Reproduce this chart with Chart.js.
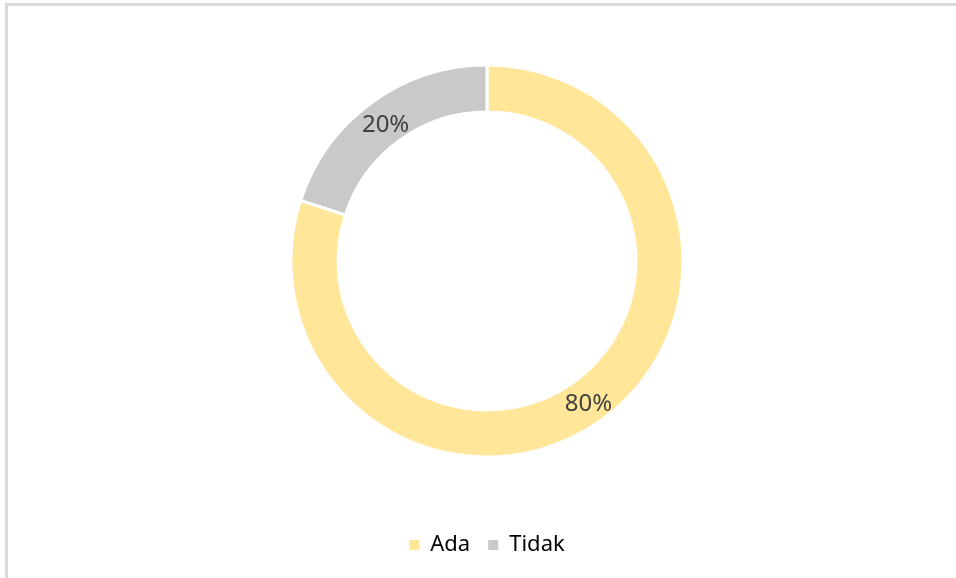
<!DOCTYPE html>
<html>
<head>
<meta charset="utf-8">
<script src="https://cdn.jsdelivr.net/npm/chart.js@4"></script>
<style>
  html, body { margin: 0; padding: 0; background: #fff; }
  #wrap { position: relative; width: 956px; height: 578px; }
  #frame { position: absolute; left: 5px; top: 3px; right: 0; bottom: 0;
           border-top: 3px solid #D9D9D9; border-left: 3px solid #D9D9D9; pointer-events: none; }
  canvas { position: absolute; left: 0; top: 0; }
</style>
</head>
<body>
<div id="wrap">
  <canvas id="c" width="956" height="578"></canvas>
  <div id="frame"></div>
</div>
<script>
const categories = ["Ada", "Tidak"];
const values = [80, 20];
const labelsText = ["80%", "20%"];
const colors = ["#FFE699", "#C9C9C9"];

const FONT = "'Segoe UI', 'Noto Sans', 'Open Sans', sans-serif";

const valueLabels = {
  id: 'valueLabels',
  afterDatasetsDraw(chart) {
    const ctx = chart.ctx;
    const meta = chart.getDatasetMeta(0);
    ctx.save();
    ctx.font = "24px " + FONT;
    ctx.fillStyle = "#404040";
    ctx.textAlign = "center";
    ctx.textBaseline = "middle";
    meta.data.forEach((arc, i) => {
      const p = arc.tooltipPosition();
      ctx.fillText(labelsText[i], p.x, p.y + 4);
    });
    ctx.restore();
  }
};

new Chart(document.getElementById('c'), {
  type: 'doughnut',
  data: {
    labels: categories,
    datasets: [{
      data: values,
      backgroundColor: colors,
      borderColor: "#ffffff",
      borderWidth: 3,
      radius: 196,
      cutout: "76%"
    }]
  },
  options: {
    responsive: false,
    animation: false,
    layout: { padding: { left: 18, top: 6, right: 0, bottom: 12 } },
    plugins: {
      tooltip: { enabled: false },
      legend: {
        position: 'bottom',
        labels: {
          boxWidth: 10,
          boxHeight: 10,
          padding: 18,
          color: "#262626",
          font: { size: 22, family: FONT },
          generateLabels(chart) {
            return categories.map((c, i) => ({
              text: c,
              fillStyle: colors[i],
              strokeStyle: colors[i],
              lineWidth: 0,
              hidden: false,
              index: i
            }));
          }
        }
      }
    }
  },
  plugins: [valueLabels]
});
</script>
</body>
</html>
